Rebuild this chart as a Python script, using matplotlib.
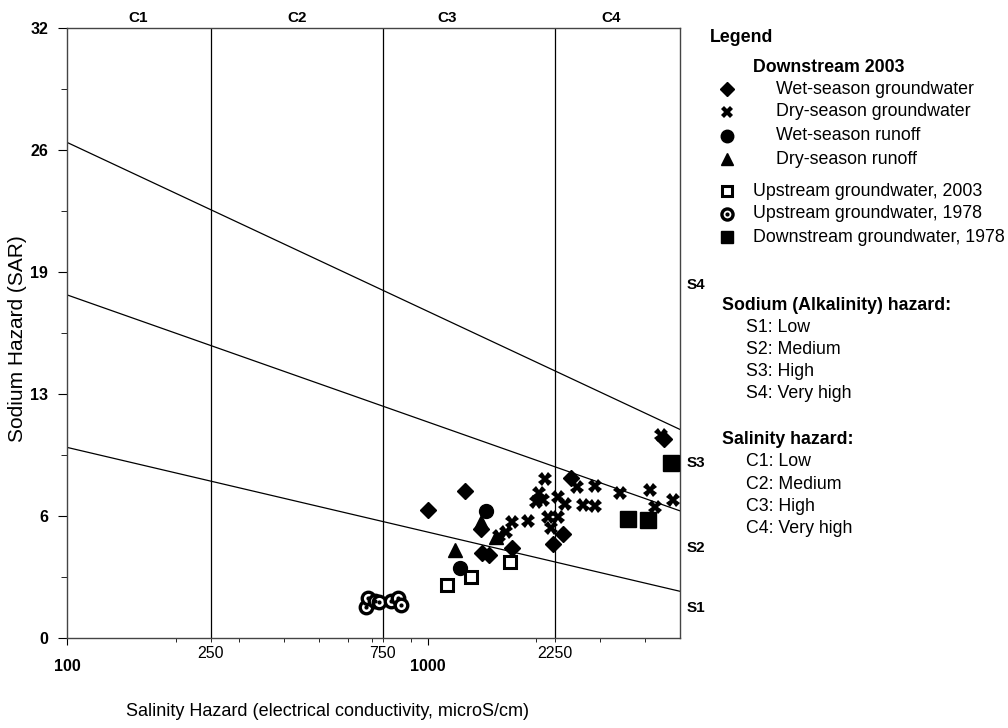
import numpy as np
import matplotlib
import matplotlib.pyplot as plt
from matplotlib.ticker import FixedLocator, FixedFormatter


matplotlib.use("Agg")
plt.rcParams["font.family"] = ["Liberation Sans", "DejaVu Sans"]

# EC (microS/cm) and SAR
wet_gw_ec = [1000, 1266, 1401, 1410, 1474, 1706, 2229, 2375, 2499, 4516]
wet_gw_sar = [6.72, 7.71, 5.72, 4.46, 4.35, 4.72, 4.93, 5.46, 8.39, 10.44]

dry_gw_ec = [2118, 2039, 2000, 2091, 2301, 2405, 2597, 2912, 2697, 2912,
             2160, 2301, 2200, 1901, 1706, 1643, 1571, 3413, 4131, 4265,
             4782, 4430]
dry_gw_sar = [8.34, 7.61, 7.14, 7.24, 7.40, 7.03, 7.92, 7.97, 6.98, 6.93,
              6.35, 6.35, 5.77, 6.14, 6.09, 5.56, 5.35, 7.61, 7.76, 6.87,
              7.24, 10.65]

wet_ro_ec = [1446, 1225]
wet_ro_sar = [6.66, 3.67]

dry_ro_ec = [1187, 1401, 1541]
dry_ro_sar = [4.62, 6.09, 5.30]

up03_ec = [1128, 1315, 1685]
up03_sar = [2.78, 3.20, 3.99]

up78_ec = [674, 683, 714, 732, 790, 826, 842]
up78_sar = [1.63, 2.10, 1.94, 1.89, 1.94, 2.10, 1.73]

down78_ec = [3592, 4078, 4721]
down78_sar = [6.24, 6.19, 9.18]

# hazard class boundaries
ec_bounds = [250, 750, 2250]
ec_range = [100, 5000]
sar_at_100 = [10.0, 18.0, 26.0]
sar_at_5000 = [2.45, 6.67, 10.94]

c_labels = ["C1", "C2", "C3", "C4"]
c_label_ec = [157, 435, 1128, 3223]
s_labels = ["S1", "S2", "S3", "S4"]
s_label_sar = [1.6, 4.7, 9.2, 18.5]

y_ticks = np.linspace(0, 32, 6)
y_ticklabels = ["0", "6", "13", "19", "26", "32"]

fig = plt.figure(figsize=(10.08, 7.28), dpi=100)
ax = fig.add_axes([67 / 1008, 90 / 728, 613 / 1008, 610 / 728])

for lo, hi in zip(sar_at_100, sar_at_5000):
    ax.plot(ec_range, [lo, hi], color="black", lw=0.9, zorder=2)
for b in ec_bounds:
    ax.axvline(b, color="black", lw=0.9, zorder=2)

ms = 9
ax.plot(wet_gw_ec, wet_gw_sar, "D", color="black", ms=8, ls="none", zorder=4)
ax.plot(dry_gw_ec, dry_gw_sar, "X", color="black", ms=10, mew=0, ls="none", zorder=4)
ax.plot(wet_ro_ec, wet_ro_sar, "o", color="black", ms=ms + 1, ls="none", zorder=4)
ax.plot(dry_ro_ec, dry_ro_sar, "^", color="black", ms=ms + 1, ls="none", zorder=4)
ax.plot(up03_ec, up03_sar, "s", mfc="white", mec="black", mew=2.2, ms=ms - 1,
        ls="none", zorder=4)
ax.plot(up78_ec, up78_sar, "o", mfc="white", mec="black", mew=2.4, ms=ms,
        ls="none", zorder=4)
ax.plot(up78_ec, up78_sar, "o", color="black", ms=2, ls="none", zorder=5)
ax.plot(down78_ec, down78_sar, "s", color="black", ms=ms + 2, ls="none", zorder=4)

ax.set_xscale("log")
ax.set_xlim(ec_range)
ax.set_ylim(0, 32)

ax.xaxis.set_major_locator(FixedLocator([100, 1000]))
ax.xaxis.set_major_formatter(FixedFormatter(["100", "1000"]))
minor_x = [200, 250, 300, 400, 500, 600, 700, 750, 900, 2000, 2250, 3000, 4000]
ax.xaxis.set_minor_locator(FixedLocator(minor_x))
ax.xaxis.set_minor_formatter(FixedFormatter(
    ["250" if v == 250 else "750" if v == 750 else "2250" if v == 2250 else ""
     for v in minor_x]))
ax.tick_params(axis="x", which="major", length=5, pad=10, labelsize=11.5)
ax.tick_params(axis="x", which="minor", length=3, pad=3, labelsize=11.5)
for t in ax.get_xticklabels(which="major"):
    t.set_fontweight("bold")

ax.set_yticks(y_ticks)
ax.set_yticklabels(y_ticklabels, fontweight="bold", fontsize=11.5)
ax.set_yticks((y_ticks[:-1] + y_ticks[1:]) / 2, minor=True)
ax.tick_params(axis="y", which="major", length=6.5, pad=7)
ax.tick_params(axis="y", which="minor", length=4)

for s in ax.spines.values():
    s.set_color("#444444")
    s.set_linewidth(1.0)

for lab, x in zip(c_labels, c_label_ec):
    ax.text(x, 32.52, lab, ha="center", va="center", fontsize=11,
            fontweight="bold")
for lab, y in zip(s_labels, s_label_sar):
    ax.text(1.01, y, lab, transform=ax.get_yaxis_transform(), ha="left",
            va="center", fontsize=11, fontweight="bold")

fig.text(328 / 1008, 1 - 712 / 728,
         "Salinity Hazard (electrical conductivity, microS/cm)",
         ha="center", va="center", fontsize=13)
fig.text(18 / 1008, 1 - 339 / 728, "Sodium Hazard (SAR)", rotation=90,
         ha="center", va="center", fontsize=15)

# legend panel in pixel coordinates
lax = fig.add_axes([0, 0, 1, 1])
lax.set_xlim(0, 1008)
lax.set_ylim(728, 0)
lax.axis("off")

fs = 12.8
lax.text(710, 37, "Legend", fontsize=fs, fontweight="bold", va="center")
lax.text(753, 67, "Downstream 2003", fontsize=fs, fontweight="bold", va="center")
entries = [
    ("D", dict(color="black", ms=7), "Wet-season groundwater", 776, 89),
    ("X", dict(color="black", ms=9, mew=0), "Dry-season groundwater", 776, 112),
    ("o", dict(color="black", ms=9), "Wet-season runoff", 776, 136),
    ("^", dict(color="black", ms=9), "Dry-season runoff", 776, 159),
    ("s", dict(mfc="white", mec="black", mew=2.2, ms=7), "Upstream groundwater, 2003", 753, 191),
    ("o", dict(mfc="white", mec="black", mew=2.4, ms=8), "Upstream groundwater, 1978", 753, 214),
    ("s", dict(color="black", ms=9), "Downstream groundwater, 1978", 753, 237),
]
for mk, kw, label, tx, ty in entries:
    lax.plot([727], [ty], mk, ls="none", **kw)
    lax.text(tx, ty, label, fontsize=fs, va="center")
lax.plot([727], [214], "o", color="black", ms=2)

lax.text(722, 305, "Sodium (Alkalinity) hazard:", fontsize=fs,
         fontweight="bold", va="center")
for i, t in enumerate(["S1: Low", "S2: Medium", "S3: High", "S4: Very high"]):
    lax.text(746, 327 + i * 22.3, t, fontsize=fs, va="center")
lax.text(722, 440, "Salinity hazard:", fontsize=fs, fontweight="bold", va="center")
for i, t in enumerate(["C1: Low", "C2: Medium", "C3: High", "C4: Very high"]):
    lax.text(746, 462 + i * 22.3, t, fontsize=fs, va="center")

fig.savefig("out.png", dpi=100)
plt.close(fig)
